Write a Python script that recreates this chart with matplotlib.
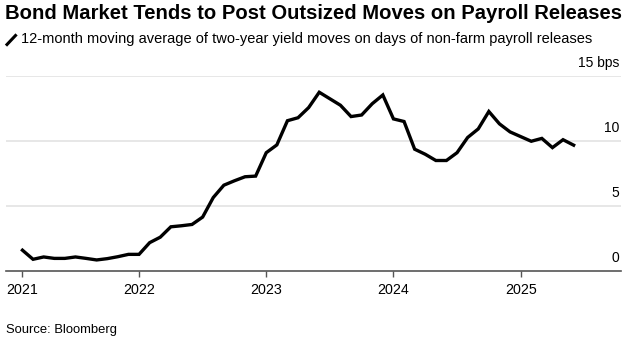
import numpy as np
import pandas as pd
import matplotlib
matplotlib.use("Agg")
import matplotlib.pyplot as plt
from matplotlib.lines import Line2D
import matplotlib.transforms as mtransforms

plt.rcParams['font.family'] = ['Liberation Sans', 'DejaVu Sans']

# monthly readings, Feb 2021 .. Jun 2025
months = pd.date_range("2021-02-01", periods=53, freq="MS")
yield_moves = [
    1.6, 0.9, 1.08, 0.97, 0.97, 1.08, 0.97, 0.85, 0.95, 1.1, 1.28,
    1.28, 2.18, 2.6, 3.4, 3.48, 3.58, 4.15, 5.65, 6.6, 6.94, 7.25, 7.3,
    9.1, 9.7, 11.56, 11.79, 12.57, 13.75, 13.25, 12.75, 11.88, 12.0, 12.87, 13.54,
    11.7, 11.5, 9.37, 8.98, 8.5, 8.5, 9.1, 10.27, 10.93, 12.27, 11.32, 10.7,
    10.34, 9.98, 10.2, 9.49, 10.1, 9.68,
]
year_ticks = ["2021", "2022", "2023", "2024", "2025"]
y_ticks = [0, 5, 10, 15]
y_labels = ["0", "5", "10", "15 bps"]

title = "Bond Market Tends to Post Outsized Moves on Payroll Releases"
subtitle = "12-month moving average of two-year yield moves on days of non-farm payroll releases"
source = "Source: Bloomberg"

W, H = 639, 345
fig = plt.figure(figsize=(W / 100, H / 100), dpi=100)

# decimal years for x
x = months.year + (months.month - 1) / 12.0

ax = fig.add_axes([6 / W, 74 / H, 615 / W, 195 / H])
ax.plot(x, yield_moves, color="black", lw=2.4, solid_joinstyle="miter", zorder=3)

ax.set_xlim(2020.954, 2025.789)
ax.set_ylim(0, 15)

# x ticks: first one sits on the first data point
tick_pos = [x[0]] + [float(t) for t in year_ticks[1:]]
ax.set_xticks(tick_pos)
ax.set_xticklabels(year_ticks, fontsize=10.3)
ax.tick_params(axis="x", length=4.5, width=1, color="#555555", pad=4.5, labelcolor="black")

ax.set_yticks([])
for v in y_ticks[1:]:
    ax.axhline(v, color="#e3e3e3", lw=1.2, zorder=1)

trans = mtransforms.blended_transform_factory(ax.transAxes, ax.transData)
for v, lab in zip(y_ticks, y_labels):
    ax.annotate(lab, xy=(1.0, v), xycoords=trans, xytext=(-1, 4.5),
                textcoords="offset points", ha="right", va="bottom",
                fontsize=10, color="black", annotation_clip=False)

for s in ["top", "right", "left"]:
    ax.spines[s].set_visible(False)
ax.spines["bottom"].set_color("#555555")
ax.spines["bottom"].set_linewidth(1.2)

fig.text(5 / W, 1 - 19 / H, title, fontsize=14.6, fontweight="bold",
         ha="left", va="baseline", color="black")
fig.text(21 / W, 1 - 43.5 / H, subtitle, fontsize=10.5,
         ha="left", va="baseline", color="black")
fig.add_artist(Line2D([7 / W, 15.5 / W], [1 - 44.5 / H, 1 - 35.5 / H],
                      transform=fig.transFigure, color="black", lw=2.2))
fig.text(6 / W, 1 - 333.5 / H, source, fontsize=9.4,
         ha="left", va="baseline", color="black")

fig.savefig("out.png", dpi=100)
